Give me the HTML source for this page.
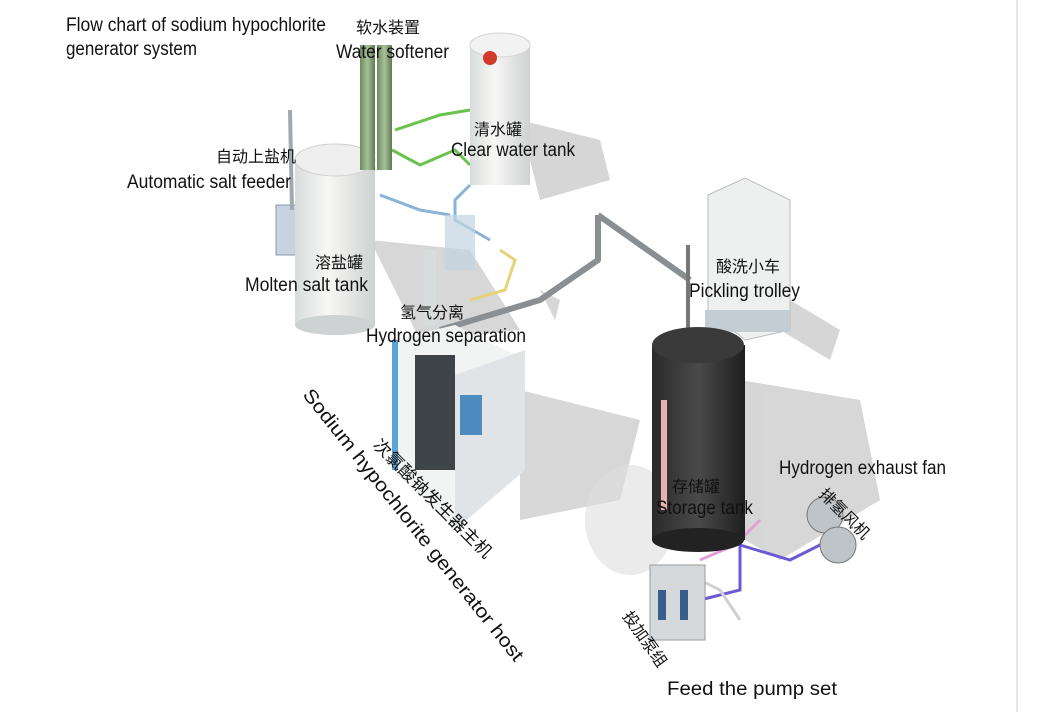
<!DOCTYPE html>
<html><head><meta charset="utf-8"><style>
body{margin:0;background:#fff;width:1039px;height:712px;overflow:hidden;font-family:"Liberation Sans","Noto Sans CJK SC",sans-serif}
svg{position:absolute;left:0;top:0}
</style></head><body>
<svg width="1039" height="712" viewBox="0 0 1039 712">
<defs>
<linearGradient id="wt" x1="0" x2="1"><stop offset="0" stop-color="#d8dcdc"/><stop offset=".4" stop-color="#f7f7f5"/><stop offset="1" stop-color="#cfd2d2"/></linearGradient>
<linearGradient id="dk" x1="0" x2="1"><stop offset="0" stop-color="#2a2a2a"/><stop offset=".5" stop-color="#4a4a4a"/><stop offset="1" stop-color="#1e1e1e"/></linearGradient>
<linearGradient id="gr" x1="0" x2="1"><stop offset="0" stop-color="#6e8a60"/><stop offset=".5" stop-color="#a8c09a"/><stop offset="1" stop-color="#5e7a52"/></linearGradient>
</defs>
<rect x="1016" y="0" width="2" height="712" fill="#e6e6e6"/>
<g fill="#c9c9c9" opacity=".75">
<polygon points="520,120 600,140 610,180 540,200"/>
<polygon points="370,240 470,250 520,330 420,340"/>
<polygon points="520,390 640,420 620,500 520,520"/>
<polygon points="740,380 860,400 880,500 780,560 745,540"/>
<polygon points="790,300 840,330 830,360 780,330"/>
<polygon points="540,290 560,300 555,320"/>
</g>
<ellipse cx="630" cy="520" rx="45" ry="55" fill="#ddd" opacity=".6"/>
<g fill="none" stroke-width="6" stroke-linejoin="round">
<path d="M598,215 L598,260 L540,300 L440,330" stroke="#8a8f93"/>
<path d="M598,215 L690,280" stroke="#8a8f93"/>
<path d="M688,245 L688,330" stroke="#777" stroke-width="4"/>
</g>
<g fill="none" stroke-width="3">
<path d="M395,130 L440,115 L470,110" stroke="#6ac24e"/>
<path d="M392,150 L420,165 L455,150 L470,165" stroke="#6ac24e"/>
<path d="M470,185 L455,200 L455,220 L490,240" stroke="#8ab4d6"/>
<path d="M380,195 L420,210 L450,215" stroke="#8ab4d6"/>
<path d="M500,250 L515,260 L505,290 L470,300" stroke="#e6d27a"/>
<path d="M740,340 L740,590 L700,600" stroke="#6a5bd4"/>
<path d="M740,545 L790,560 L830,540" stroke="#6a5bd4"/>
<path d="M700,560 L735,545 L760,520" stroke="#e2a0d8"/>
<path d="M690,575 L720,590 L740,620" stroke="#d0d0d0"/>
</g>
<rect x="276" y="205" width="24" height="50" fill="#c7d3e0" stroke="#8a98a8"/>
<line x1="290" y1="110" x2="292" y2="210" stroke="#a0a8b0" stroke-width="4"/>
<rect x="295" y="160" width="80" height="165" fill="url(#wt)"/>
<ellipse cx="335" cy="160" rx="40" ry="16" fill="#efefef" stroke="#d0d0d0"/>
<ellipse cx="335" cy="325" rx="40" ry="10" fill="#cfd2d2"/>
<rect x="360" y="45" width="15" height="125" fill="url(#gr)"/>
<rect x="377" y="45" width="15" height="125" fill="url(#gr)"/>
<rect x="470" y="45" width="60" height="140" fill="url(#wt)"/>
<ellipse cx="500" cy="45" rx="30" ry="12" fill="#f2f2f2" stroke="#d5d5d5"/>
<circle cx="490" cy="58" r="7" fill="#d43a2a"/>
<rect x="424" y="250" width="12" height="75" fill="#d9dcdd"/>
<rect x="445" y="215" width="30" height="55" fill="#c2d4e2" opacity=".7"/>
<polygon points="392,340 455,325 525,360 525,470 455,530 392,470" fill="#f2f3f3"/>
<polygon points="455,375 525,350 525,470 455,530" fill="#e1e4e6"/>
<rect x="415" y="355" width="40" height="115" fill="#3f4448"/>
<rect x="392" y="340" width="6" height="130" fill="#5aa5d8"/>
<rect x="460" y="395" width="22" height="40" fill="#4e8cc0"/>
<polygon points="708,195 745,178 790,200 790,330 745,340 708,310" fill="#eef0ef" stroke="#bbb"/>
<rect x="705" y="310" width="85" height="22" fill="#c3cdd4"/>
<rect x="652" y="345" width="93" height="195" fill="url(#dk)"/>
<ellipse cx="698" cy="345" rx="46" ry="18" fill="#3a3a3a"/>
<ellipse cx="698" cy="540" rx="46" ry="12" fill="#222"/>
<rect x="661" y="400" width="6" height="110" fill="#e8b0b0"/>
<circle cx="825" cy="515" r="18" fill="#bfc4c8" stroke="#777"/>
<circle cx="838" cy="545" r="18" fill="#bfc4c8" stroke="#777"/>
<rect x="650" y="565" width="55" height="75" fill="#d5d9dc" stroke="#999"/>
<rect x="658" y="590" width="8" height="30" fill="#3a5d8a"/><rect x="680" y="590" width="8" height="30" fill="#3a5d8a"/>
<g font-size="19" fill="#111" font-family="Liberation Sans, Noto Sans CJK SC, sans-serif" lengthAdjust="spacingAndGlyphs">
<text x="66" y="31" textLength="260" lengthAdjust="spacingAndGlyphs">Flow chart of sodium hypochlorite</text>
<text x="66" y="55" textLength="131" lengthAdjust="spacingAndGlyphs">generator system</text>
<text x="336" y="58" textLength="113" lengthAdjust="spacingAndGlyphs">Water softener</text>
<text x="356" y="33" font-size="16">软水装置</text>
<text x="474" y="135" font-size="16">清水罐</text>
<text x="451" y="156" textLength="124" lengthAdjust="spacingAndGlyphs">Clear water tank</text>
<text x="216" y="162" font-size="16">自动上盐机</text>
<text x="127" y="188" textLength="164" lengthAdjust="spacingAndGlyphs">Automatic salt feeder</text>
<text x="315" y="268" font-size="16">溶盐罐</text>
<text x="245" y="291" textLength="123" lengthAdjust="spacingAndGlyphs">Molten salt tank</text>
<text x="400" y="318" font-size="16">氢气分离</text>
<text x="366" y="342" textLength="160" lengthAdjust="spacingAndGlyphs">Hydrogen separation</text>
<text x="716" y="272" font-size="16">酸洗小车</text>
<text x="689" y="297" textLength="111" lengthAdjust="spacingAndGlyphs">Pickling trolley</text>
<text x="779" y="474" textLength="167" lengthAdjust="spacingAndGlyphs">Hydrogen exhaust fan</text>
<text x="672" y="492" font-size="16">存储罐</text>
<text x="656" y="514" textLength="97" lengthAdjust="spacingAndGlyphs">Storage tank</text>
<text x="667" y="695" textLength="170" lengthAdjust="spacingAndGlyphs">Feed the pump set</text>
<text transform="translate(302,395) rotate(51.5)" textLength="342" lengthAdjust="spacingAndGlyphs">Sodium hypochlorite generator host</text>
<text transform="translate(372,446) rotate(45)" font-size="17" textLength="160" lengthAdjust="spacingAndGlyphs">次氯酸钠发生器主机</text>
<text transform="translate(818,495) rotate(45)" font-size="16">排氢风机</text>
<text transform="translate(622,616) rotate(55)" font-size="16">投加泵组</text>
</g>
</svg>
</body></html>
